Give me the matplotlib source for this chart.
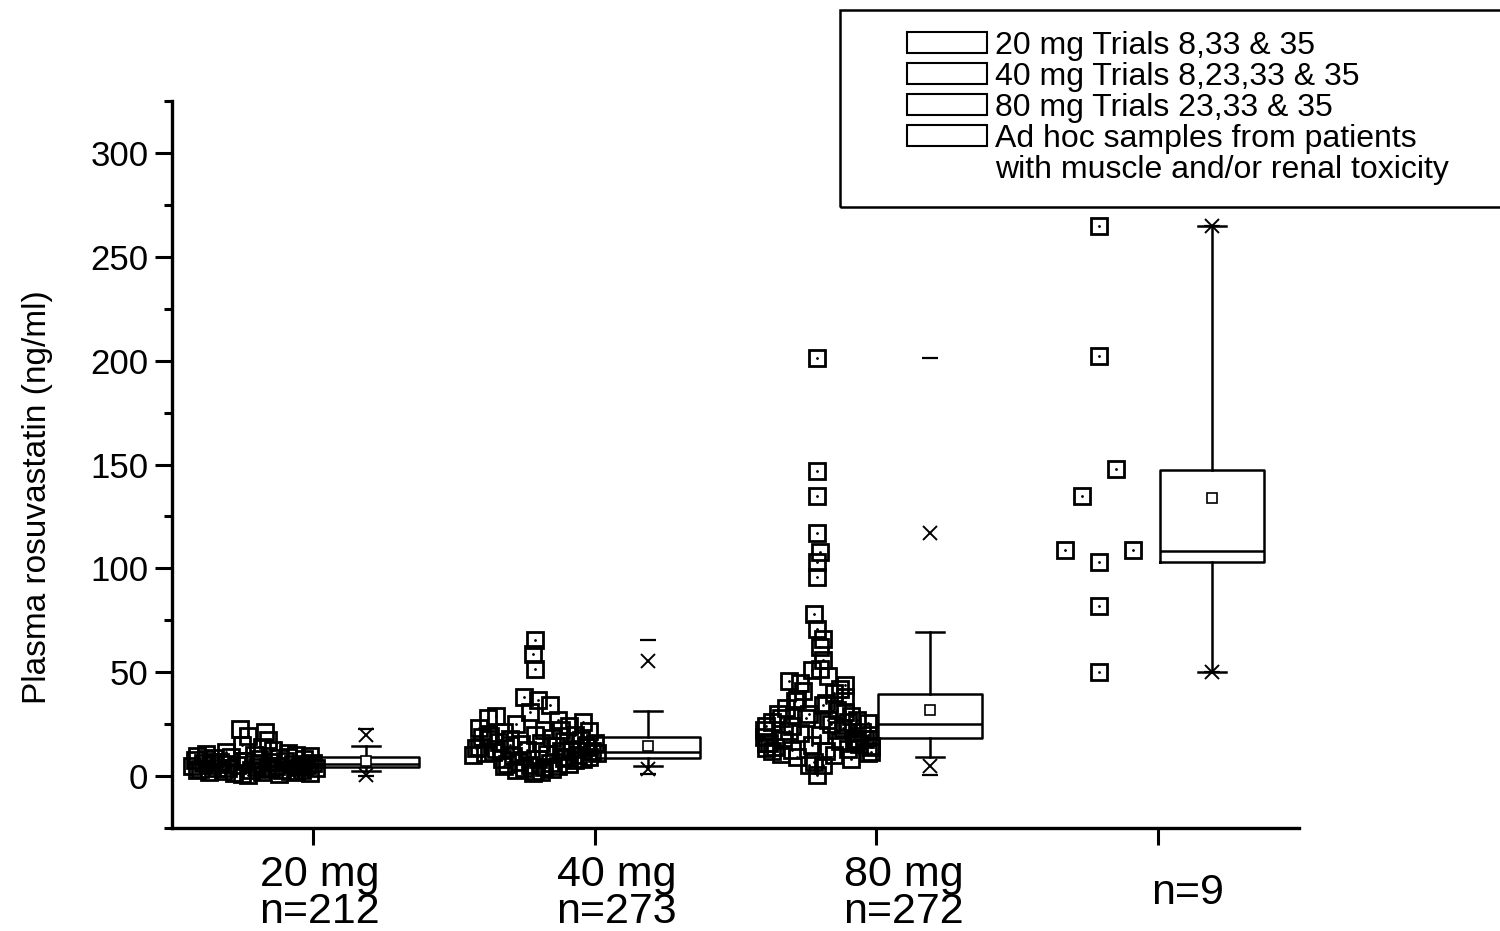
import numpy as np
import matplotlib.pyplot as plt
from matplotlib.patches import Patch, Rectangle
from matplotlib.ticker import MultipleLocator
from matplotlib.transforms import ScaledTranslation

plt.rcParams['font.family'] = ['Liberation Sans', 'DejaVu Sans']

# ---- data ----
groups = [1, 2, 3, 4]
tick_labels = ['20 mg\nn=212', '40 mg\nn=273', '80 mg\nn=272', 'n=9']
legend_labels = ['20 mg Trials 8,33 & 35', '40 mg Trials 8,23,33 & 35',
                 '80 mg Trials 23,33 & 35', 'Ad hoc samples from patients',
                 'with muscle and/or renal toxicity']

# individual samples (ng/ml) and their horizontal jitter within the cloud
vals20 = [22.6, 21.0, 19.5, 17.2, 15.0, 13.8, 12.5, 11.6, 11.0, 10.6,
          10.2, 9.8, 9.5, 9.1, 8.8, 8.5, 8.2, 8.0, 7.7, 7.4,
          7.1, 6.9, 6.6, 6.4, 6.1, 5.9, 5.7, 5.5, 5.3, 5.1,
          4.9, 4.7, 4.5, 4.3, 4.1, 3.9, 3.7, 3.5, 3.3, 3.1,
          2.9, 2.7, 2.5, 2.3, 2.1, 1.9, 1.7, 1.5, 1.2, 0.9,
          0.6, 3.0, 5.0, 7.0, 9.0, 4.0, 6.0, 8.0, 2.0, 10.0]
jit20 = [-0.05, 0.04, -0.02, 0.05, -0.04, 0.03, 0.07, -0.10, 0.12, -0.17,
         0.15, -0.20, 0.20, -0.08, 0.09, -0.14, 0.02, 0.18, -0.21, -0.03,
         0.11, -0.12, 0.06, 0.21, -0.18, 0.00, 0.14, -0.06, 0.19, -0.15,
         0.08, -0.22, 0.01, 0.16, -0.09, 0.22, -0.13, 0.05, -0.19, 0.10,
         -0.01, 0.17, -0.11, 0.13, -0.16, 0.03, -0.07, 0.20, -0.04, 0.09,
         -0.02, -0.20, 0.18, -0.14, 0.12, 0.06, -0.10, -0.17, 0.15, 0.00]

vals40 = [65.4, 59.0, 51.4, 38.0, 36.5, 34.0, 31.0, 29.0, 28.0, 27.0,
          26.0, 25.0, 24.0, 23.0, 22.0, 21.5, 21.0, 20.0, 19.5, 19.0,
          18.5, 18.0, 17.5, 17.0, 16.5, 16.0, 15.5, 15.0, 14.5, 14.0,
          13.5, 13.0, 12.5, 12.0, 11.5, 11.0, 10.5, 10.0, 9.5, 9.0,
          8.7, 8.3, 8.0, 7.5, 7.0, 6.5, 6.0, 5.5, 5.0, 4.8,
          4.5, 4.0, 3.5, 3.0, 2.5, 2.0, 1.5, 12.0, 14.0, 16.0,
          18.0, 10.0, 8.0, 6.0, 20.0, 22.0, 11.0, 13.0, 15.0, 9.0]
jit40 = [0.00, -0.01, 0.00, -0.04, 0.01, 0.05, -0.02, -0.14, -0.17, 0.08,
         0.17, -0.07, 0.12, -0.20, 0.03, 0.19, -0.11, 0.14, -0.16, -0.19,
         0.06, -0.09, 0.16, 0.10, -0.13, 0.02, -0.05, 0.18, 0.07, 0.18,
         -0.21, 0.13, -0.03, 0.09, -0.15, -0.18, 0.04, 0.15, -0.08, 0.11,
         0.10, -0.12, 0.01, 0.14, -0.06, 0.05, -0.10, -0.02, 0.08, -0.11,
         0.03, -0.04, 0.06, -0.07, 0.00, 0.02, -0.01, 0.20, -0.20, 0.21,
         -0.17, -0.22, 0.17, 0.12, 0.00, 0.09, 0.22, -0.14, -0.09, 0.19]

vals80 = [201.5, 147.0, 134.6, 117.0, 108.0, 103.0, 95.7, 78.0, 71.0, 66.0,
          62.0, 56.0, 51.4, 51.0, 48.0, 46.0, 43.7, 41.0, 40.0, 38.0,
          36.0, 35.0, 33.0, 32.0, 31.0, 30.0, 29.0, 28.0, 27.0, 26.0,
          25.5, 25.0, 24.0, 23.0, 22.0, 21.0, 20.5, 19.7, 19.0, 18.0,
          17.5, 17.0, 16.0, 15.5, 15.0, 14.5, 14.0, 13.5, 13.0, 12.5,
          12.0, 11.5, 11.0, 10.5, 10.0, 9.0, 8.0, 7.0, 5.3, 5.3,
          0.5, 22.0, 24.0, 26.0, 28.0, 20.0, 18.0, 16.0, 14.0, 30.0,
          34.0, 37.0, 42.0, 45.0, 12.0, 27.0, 21.5, 17.0]
jit80 = [0.00, 0.00, 0.00, 0.00, 0.01, 0.00, 0.00, -0.01, 0.00, 0.02,
         0.01, 0.02, 0.01, -0.02, 0.04, -0.10, 0.10, -0.05, 0.06, 0.10,
         -0.08, 0.03, -0.11, 0.07, 0.10, -0.14, 0.12, -0.04, 0.14, -0.16,
         0.18, 0.05, -0.18, 0.09, -0.19, 0.16, -0.06, 0.18, -0.19, 0.13,
         -0.12, 0.08, -0.18, 0.15, -0.02, 0.19, -0.15, -0.18, 0.11, -0.09,
         0.03, 0.19, 0.18, -0.13, 0.06, -0.07, 0.12, -0.01, -0.03, 0.02,
         0.00, 0.07, -0.09, 0.11, -0.13, 0.01, 0.17, -0.17, 0.19, -0.03,
         0.02, -0.07, 0.08, -0.06, -0.16, 0.04, -0.10, 0.14]

vals_adhoc = [265, 202, 148, 135, 109, 109, 103, 82, 50]
jit_adhoc = [0.00, 0.00, 0.06, -0.06, -0.12, 0.12, 0.00, 0.00, 0.00]

# box chart summary: 25/50/75 %, mean, 5-95 % whiskers, 1/99 % (x), min/max (-)
q1 = [4.3, 8.7, 18.3, 103.0]
med = [5.8, 11.5, 25.0, 108.5]
q3 = [9.1, 18.8, 39.4, 147.5]
means = [7.2, 14.4, 31.7, 133.7]
p5 = [2.4, 4.8, 9.1, 50.0]
p95 = [14.4, 31.3, 69.2, 265.0]
p1 = [0.5, 3.2, 4.8, 50.0]
p99 = [19.7, 55.3, 116.8, 265.0]
mins = [0.0, 1.0, 0.5, 50.0]
maxs = [22.6, 65.4, 201.5, 265.0]

clouds = [(vals20, jit20), (vals40, jit40), (vals80, jit80), (vals_adhoc, jit_adhoc)]

# ---- figure ----
fig = plt.figure(figsize=(15, 9.31), dpi=100)
ax = fig.add_axes([172/1500, 1 - 828/931, (1299 - 172)/1500, (828 - 101)/931])

cloud_shift = -0.21
box_shift = 0.19

for g, (v, j) in zip(groups, clouds):
    xs = g + cloud_shift + np.array(j)
    ax.plot(xs, v, ls='none', marker='s', ms=11, mfc='none', mec='k', mew=2.0)
    ax.plot(xs, v, ls='none', marker='.', ms=2, color='k')

stats = []
for i in range(4):
    stats.append(dict(q1=q1[i], med=med[i], q3=q3[i], mean=means[i],
                      whislo=p5[i], whishi=p95[i], fliers=[]))
box_pos = [g + box_shift for g in groups]
lw = 1.8
ax.bxp(stats, positions=box_pos, widths=0.37, capwidths=0.1,
       showmeans=True, showfliers=False,
       boxprops=dict(color='k', lw=lw), whiskerprops=dict(color='k', lw=lw),
       capprops=dict(color='k', lw=lw), medianprops=dict(color='k', lw=lw),
       meanprops=dict(marker='s', mfc='white', mec='k', ms=7, mew=1.2))
ax.plot(box_pos, p1, ls='none', marker='x', ms=10, mew=1.4, color='k')
ax.plot(box_pos, p99, ls='none', marker='x', ms=10, mew=1.4, color='k')
ax.plot(box_pos, mins, ls='none', marker='_', ms=11, mew=1.6, color='k')
ax.plot(box_pos, maxs, ls='none', marker='_', ms=11, mew=1.6, color='k')

ax.set_xlim(0.5, 4.5)
ax.set_ylim(-25, 325)
ax.set_xticks(groups)
ax.set_xticklabels(tick_labels, fontsize=31, linespacing=0.9)
ax.yaxis.set_major_locator(MultipleLocator(50))
ax.yaxis.set_minor_locator(MultipleLocator(25))
ax.set_yticks([0, 50, 100, 150, 200, 250, 300])
ax.tick_params(axis='y', which='major', length=12, width=2.2, labelsize=25, pad=5)
ax.tick_params(axis='y', which='minor', length=6, width=2.2)
ax.tick_params(axis='x', which='major', length=12, width=2.2, pad=35)
ax.tick_params(axis='x', which='minor', length=0)

# labels sit a little right of their ticks (after tick_params, which resets transforms)
label_dx = [7, 22, 27, 29]
for lbl, dx in zip(ax.get_xticklabels(), label_dx):
    lbl.set_verticalalignment('center')
    lbl.set_transform(lbl.get_transform() + ScaledTranslation(dx/100, 0, fig.dpi_scale_trans))

ax.set_ylabel('Plasma rosuvastatin (ng/ml)', fontsize=24)
ax.yaxis.set_label_coords((53 - 172)/1127, (828 - 497)/727)

for s in ['top', 'right']:
    ax.spines[s].set_visible(False)
for s in ['left', 'bottom']:
    ax.spines[s].set_linewidth(2.4)

# legend with a separate frame reaching the figure edge
handles = [Patch(fc='white', ec='k', lw=1.5) for _ in range(4)] + [Patch(fc='none', ec='none')]
fig.legend(handles, legend_labels, loc='upper left',
           bbox_to_anchor=(907/1500, 1 - 31/931), frameon=False, fontsize=23,
           handlelength=2.5, handleheight=0.65, handletextpad=0.25,
           labelspacing=0.03, borderpad=0, borderaxespad=0)
fig.patches.append(Rectangle((840/1500, 1 - 207/931), 700/1500, 197/931,
                             transform=fig.transFigure, fill=False, ec='k', lw=1.8))

fig.savefig('out.png', dpi=100)
